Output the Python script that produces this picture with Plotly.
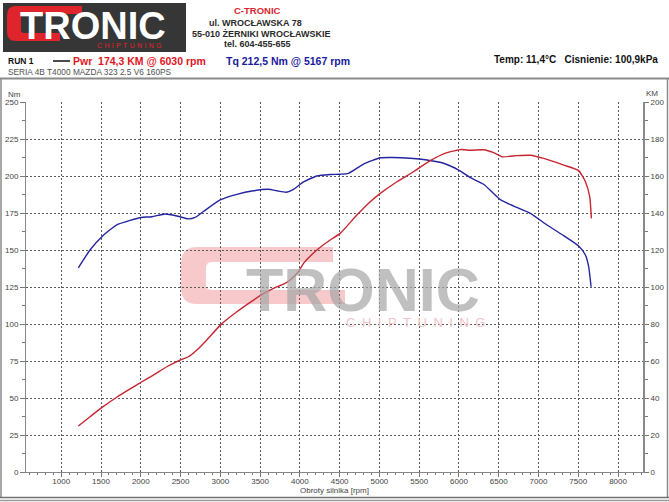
import plotly.graph_objects as go

# ---------------- data ----------------
rpm_tq = [1215, 1362, 1530, 1698, 1866, 2004, 2139, 2306, 2453, 2600, 2683, 2788,
          2998, 3208, 3417, 3606, 3711, 3829, 3920, 4046, 4214, 4381, 4507, 4612,
          4801, 5011, 5167, 5388, 5598, 5807, 5996, 6143, 6310, 6520, 6688, 6898,
          7108, 7317, 7505, 7590, 7631, 7661]
torque_nm = [138, 150, 160, 167, 170, 172, 172.5, 174.3, 173, 171, 172, 176,
             183.8, 187.6, 190, 191, 190, 189, 191, 196, 200, 201, 201.2, 201.8,
             208, 212.3, 212.5, 212, 210.8, 208.6, 204, 198.9, 194.4, 184, 179.7, 174.8,
             166.9, 159.7, 152.7, 146.6, 138.7, 125.2]

rpm_pw = [1215, 1362, 1509, 1698, 1866, 2004, 2159, 2327, 2494, 2600, 2705, 2830,
          3010, 3208, 3375, 3514, 3668, 3794, 3878, 3983, 4046, 4214, 4381, 4507,
          4717, 4885, 5011, 5221, 5429, 5640, 5850, 6030, 6143, 6310, 6436, 6541,
          6730, 6898, 7065, 7317, 7505, 7590, 7644, 7665]
power_km = [24.9, 29.9, 34.8, 40.4, 44.9, 48.5, 52.4, 56.9, 60.5, 62.3, 65.9, 71.4,
            79.8, 86.6, 91.7, 95.7, 99.3, 101.5, 103.8, 108.3, 112.8, 120, 125.4, 129,
            138.9, 146.1, 150.6, 156.9, 162.3, 168.3, 172.6, 174.3, 173.9, 174.2, 172.6, 170.4,
            171, 171.2, 169.5, 165.9, 162.9, 156.9, 148.8, 137.1]

x_ticks = list(range(1000, 8001, 500))
nm_ticks = list(range(0, 251, 25))
km_ticks = list(range(0, 201, 20))

RED = "#c62630"
BLUE = "#2424a0"
NARROW = "Liberation Sans Narrow, Arial Narrow, Liberation Sans, Arial, sans-serif"
ARIAL = "Liberation Sans, Arial, sans-serif"

W, H = 669, 502
L, R, T, B = 26, 26, 102, 30
PW, PH = W - L - R, H - T - B


def px(x):
    return (x - L) / PW


def py(y):
    return (H - B - y) / PH


def path(cmds):
    out = []
    for c in cmds:
        op, pts = c[0], c[1:]
        s = op + " " + " ".join(f"{px(a):.5f},{py(b):.5f}" for a, b in pts)
        out.append(s)
    return " ".join(out) + " Z"


fig = go.Figure()
fig.add_trace(go.Scatter(x=rpm_tq, y=torque_nm, mode="lines", yaxis="y",
                         line=dict(color=BLUE, width=1.4, shape="spline", smoothing=0.5),
                         hoverinfo="skip", showlegend=False))
fig.add_trace(go.Scatter(x=rpm_pw, y=power_km, mode="lines", yaxis="y2",
                         line=dict(color=RED, width=1.4, shape="spline", smoothing=0.5),
                         hoverinfo="skip", showlegend=False))

shapes = []
# frame
shapes.append(dict(type="line", xref="paper", yref="paper", x0=px(0), x1=px(W), y0=py(78.5), y1=py(78.5),
                   line=dict(color="#8a8a8a", width=2)))
shapes.append(dict(type="line", xref="paper", yref="paper", x0=px(1), x1=px(1), y0=py(78), y1=py(498),
                   line=dict(color="#8a8a8a", width=1.5)))
shapes.append(dict(type="line", xref="paper", yref="paper", x0=px(667.5), x1=px(667.5), y0=py(78), y1=py(498),
                   line=dict(color="#8a8a8a", width=1.5)))
shapes.append(dict(type="line", xref="paper", yref="paper", x0=px(0), x1=px(W), y0=py(497.5), y1=py(497.5),
                   line=dict(color="#707070", width=1.5)))
shapes.append(dict(type="line", xref="paper", yref="paper", x0=px(0), x1=px(W), y0=py(500.5), y1=py(500.5),
                   line=dict(color="#9a9a9a", width=1.5)))
# logo box
shapes.append(dict(type="rect", xref="paper", yref="paper", x0=px(3), x1=px(186), y0=py(3), y1=py(52),
                   fillcolor="#363636", line=dict(width=0), layer="below"))
# logo red C
shapes.append(dict(type="path", xref="paper", yref="paper", layer="below",
                   path=path([("M", (82, 6)), ("L", (16, 6)), ("Q", (7, 6), (7, 15)), ("L", (7, 32)),
                              ("Q", (7, 41), (16, 41)), ("L", (60, 41)), ("L", (60, 33)), ("L", (24, 33)),
                              ("Q", (21, 33), (21, 30)), ("L", (21, 17)), ("Q", (21, 14), (24, 14)),
                              ("L", (82, 14))]),
                   fillcolor="#e0242c", line=dict(width=0)))
# short legend line
shapes.append(dict(type="line", xref="paper", yref="paper", x0=px(53), x1=px(70), y0=py(61), y1=py(61),
                   line=dict(color="#111111", width=1.5)))
# watermark C
shapes.append(dict(type="path", xref="paper", yref="paper", layer="below",
                   path=path([("M", (333, 247)), ("L", (197, 247)), ("Q", (181, 247), (181, 263)),
                              ("L", (181, 288)), ("Q", (181, 304), (197, 304)), ("L", (345, 304)),
                              ("L", (345, 290)), ("L", (212, 290)), ("Q", (206, 290), (206, 284)),
                              ("L", (206, 268)), ("Q", (206, 262), (212, 262)), ("L", (333, 262))]),
                   fillcolor="#f7c9cb", line=dict(width=0)))

ann = []


def text(t, x, y, size, color, family=NARROW, xanchor="left", bold=False, opacity=1):
    if bold:
        t = "<b>" + t + "</b>"
    ann.append(dict(text=t, x=px(x), y=py(y), xref="paper", yref="paper", showarrow=False,
                    xanchor=xanchor, yanchor="middle", opacity=opacity,
                    font=dict(size=size, color=color, family=family)))


# logo texts
text("TRONIC", 92.5, 26.5, 38, "#ffffff", family=ARIAL, xanchor="center", bold=True)
text("\u2004".join("CHIPTUNING"), 129, 45, 7, "#e0242c", family=ARIAL, xanchor="center")
# address
text("C-TRONIC", 257, 10, 9.5, "#d8262e", xanchor="center", bold=True)
text("ul. WROCŁAWSKA 78", 255, 22.5, 9, "#2a2a2a", xanchor="center", bold=True)
text("55-010 ŻERNIKI WROCŁAWSKIE", 261, 34, 9, "#2a2a2a", xanchor="center", bold=True)
text("tel. 604-455-655", 257, 44, 9, "#2a2a2a", xanchor="center", bold=True)
# run line
text("RUN 1", 6, 61, 8.5, "#111111", bold=True)
text("Pwr  174,3 KM @ 6030 rpm", 71, 61, 10.5, "#e0141c", bold=True)
text("Tq 212,5 Nm @ 5167 rpm", 224, 61, 10.5, "#1a1a9c", bold=True)
text("Temp: 11,4°C   Cisnienie: 100,9kPa", 660, 59.5, 10, "#111111", xanchor="right", bold=True)
text("SERIA 4B T4000 MAZDA 323 2.5 V6 160PS", 6, 71.5, 8.3, "#505050")
# axis titles
text("Nm", 14.5, 94, 8, "#444444", xanchor="center")
text("KM", 652, 93, 8, "#444444", xanchor="center")
text("Obroty silnika [rpm]", 334, 491, 8, "#444444", xanchor="center")
# watermark
text("TRONIC", 362.5, 290, 61, "#a6a6a6", family=ARIAL, xanchor="center", bold=True, opacity=0.7)
text("\u2002".join("CHIPTUNING"), 415, 322, 13, "#f2c4c6", family=ARIAL, xanchor="center")

tickfont = dict(size=8, color="#444444", family=NARROW)
fig.update_layout(
    width=W, height=H, margin=dict(l=L, r=R, t=T, b=B, autoexpand=False),
    paper_bgcolor="white", plot_bgcolor="rgba(0,0,0,0)",
    showlegend=False, shapes=shapes, annotations=ann,
    xaxis=dict(range=[557, 8314], tickvals=x_ticks, showgrid=True, gridcolor="#5a5a5a",
               griddash="2px,2px", gridwidth=1, zeroline=False, showline=True, automargin=False,
               linecolor="#888888", linewidth=1, ticks="outside", ticklen=4, tickcolor="#777777",
               tickfont=tickfont, ticklabelstandoff=-3,
               minor=dict(dtick=100, tick0=0, ticks="outside", ticklen=2, tickcolor="#777777", showgrid=False)),
    yaxis=dict(range=[0, 250], tickvals=nm_ticks, showgrid=True, gridcolor="#5a5a5a",
               griddash="2px,2px", gridwidth=1, zeroline=False, showline=True, automargin=False,
               linecolor="#888888", linewidth=1, ticks="outside", ticklen=5, tickcolor="#777777",
               tickfont=tickfont,
               minor=dict(dtick=12.5, tick0=0, ticks="outside", ticklen=3, tickcolor="#777777", showgrid=False)),
    yaxis2=dict(range=[0, 200], tickvals=km_ticks, overlaying="y", side="right", showgrid=False,
                zeroline=False, showline=True, linecolor="#8a8a8a", linewidth=2, automargin=False,
                ticks="outside", ticklen=4, tickcolor="#777777", tickfont=tickfont,
                minor=dict(dtick=10, tick0=0, ticks="outside", ticklen=3, tickcolor="#777777")),
)

fig.write_html("out.html", config={"displayModeBar": False},
               post_script="document.body.style.margin='0px';document.documentElement.style.margin='0px';")
